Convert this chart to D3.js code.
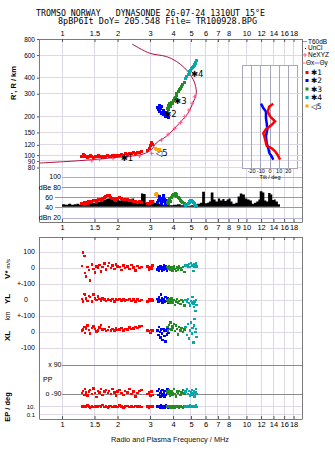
<!DOCTYPE html>
<html>
<head>
<meta charset="utf-8">
<script src="https://cdn.jsdelivr.net/npm/d3@7"></script>
<style>
  body { margin: 0; background: #fff; }
  svg { display: block; font-family: "Liberation Sans", Arial, sans-serif; }
</style>
</head>
<body>
<script>
// ---- data ----
const titleLines = ['TROMSO NORWAY   DYNASONDE 26-07-24 1310UT 15°E', '8pBP6It DoY= 205.548 File= TR100928.BPG'];
const freqTicks = [1, 1.5, 2, 3, 4, 5, 6, 7, 8, 10, 12, 14, 16, 18];
const midFreqTicks = [1, 1.5, 2, 3, 4, 5, 6, 7, 8, 9, 10, 12, 14, 16, 18];
const heightTicks = [80, 90, 100, 120, 150, 200, 300, 400, 600, 800];
const dbTicks = [20, 40, 60, 80, 100];
const dbTickLabels = ['dBn 20', '40', '60', 'dBe 80', '100'];
const tiltTicks = [-20, -10, 0, 10, 20];

// trace 1 (red)
const f1 = [1.28,1.30,1.32,1.33,1.35,1.37,1.40,1.42,1.45,1.48,1.51,1.54,1.57,1.60,1.63,1.66,1.70,1.73,1.77,1.80,1.84,1.88,1.92,1.96,2.00,2.05,2.10,2.15,2.20,2.26,2.32,2.38,2.44,2.50,2.56,2.63,2.70,2.90,2.97,3.02,3.06,3.10];
const h1 = [98,101,99,97,98,96,97,99,97,96,98,97,99,97,98,96,98,97,99,98,97,99,98,100,99,100,101,100,102,101,103,102,104,103,105,104,106,108,113,118,126,121];
const a1 = [48,49,47,50,51,49,52,50,53,54,55,53,56,57,55,58,60,62,64,63,60,58,57,55,58,60,59,57,56,57,55,54,53,52,51,52,50,49,48,52,53,51];
const v1 = [12,98,76,-32,-52,6,-12,-78,22,-6,-28,10,2,18,-22,6,28,-10,12,32,0,15,-6,22,10,5,-12,16,0,10,-6,20,4,-15,12,0,6,10,-10,5,-4,15];
const yl1 = [5,-8,38,30,10,-5,25,18,-10,35,8,0,22,5,-4,10,2,-6,4,0,-3,6,-8,2,0,5,-4,3,-2,0,6,-5,2,-10,4,-6,0,-8,3,-5,6,-2];
const xl1 = [8,15,30,-5,22,40,12,-10,25,35,18,2,10,28,45,15,20,5,12,30,10,18,8,22,12,16,25,10,20,15,28,18,22,30,25,35,38,10,5,-5,12,8];
const pp1 = [-85,-70,-95,-60,-80,-100,-75,-65,-90,-55,-85,-110,-70,-80,-60,-95,-75,-65,-85,-70,-90,-60,-80,-100,-75,-65,-85,-95,-70,-80,-60,-90,-75,-105,-85,-70,-65,-90,-80,-100,-75,-95];
const ep1 = [12,9,15,8,10,20,11,7,13,9,16,10,8,14,11,25,9,12,7,10,15,8,11,13,9,18,10,7,12,14,9,11,8,16,10,12,9,13,7,11,15,10];

// trace 2 (blue)
const f2 = [3.30,3.33,3.36,3.39,3.42,3.45,3.48,3.51,3.54,3.57,3.60,3.63,3.66,3.70,3.74,3.78];
const h2 = [235,226,243,218,232,210,238,215,205,224,208,200,214,198,206,196];
const a2 = [50,55,60,62,58,54,48,52,60,63,57,50,46,52,55,49];
const v2 = [-10,5,-15,0,10,-5,-20,5,-10,15,0,-5,10,-15,5,0];
const yl2 = [5,-10,15,0,-5,35,10,-15,0,5,-10,20,-5,0,10,-20];
const xl2 = [10,-20,30,0,-35,15,-10,-50,20,5,-25,-60,10,-15,25,-5];
const pp2 = [-70,-95,-60,-85,-105,-75,-90,-65,-100,-80,-110,-70,-95,-85,-60,-90];
const ep2 = [12,8,15,6,10,20,9,5,11,14,7,10,18,8,12,6];

// trace 3 (green)
const f3 = [3.72,3.76,3.80,3.84,3.88,3.92,3.96,4.00,4.05,4.10,4.15,4.20,4.26,4.32,4.38,4.45,4.52,4.60];
const h3 = [232,245,228,250,240,258,252,265,275,282,290,300,312,322,330,342,352,365];
const a3 = [50,55,48,58,53,60,63,66,64,67,62,65,60,58,55,52,50,48];
const v3 = [5,-5,10,0,-10,5,-15,0,8,-5,-20,3,-8,10,0,-12,5,-25];
const yl3 = [0,-10,5,-15,-5,10,-20,-5,0,-30,-10,5,-15,-5,-25,0,-10,-35];
const xl3 = [30,10,45,20,60,15,35,25,50,5,40,20,-15,30,10,25,0,15];
const pp3 = [-75,-90,-65,-100,-80,-70,-95,-85,-60,-90,-105,-75,-85,-70,-95,-80,-65,-88];
const ep3 = [10,14,8,12,6,9,15,7,11,5,13,8,10,6,12,9,7,11];

// trace 4 (teal)
const f4 = [4.66,4.75,4.82,4.88,4.94,5.00,5.05,5.10,5.15,5.20,5.24,5.28,5.32,5.36];
const h4 = [392,410,425,440,445,455,470,480,490,500,505,515,525,540];
const a4 = [44,46,48,50,52,54,55,53,50,48,46,45,44,43];
const v4 = [15,20,10,25,5,30,12,18,-20,22,8,15,28,10];
const yl4 = [0,-10,5,-20,-35,-5,-15,20,-25,-45,-10,-70,0,-30];
const xl4 = [30,-20,50,-40,10,60,-10,25,-65,40,80,0,20,-30];
const pp4 = [-75,-60,-90,-70,-100,-80,-65,-95,-85,-70,-105,-80,-60,-90];
const ep4 = [10,15,12,8,18,11,9,14,13,10,16,12,20,9];

// trace 5 (orange)
const f5 = [3.20,3.24,3.28,3.32,3.36];
const h5 = [112,110,111,109,110];
const a5 = [66,68,64,55,53];

// trace labels (frequency, height) where the black tag starts
const tagText = ['✱1', '✱2', '✱3', '✱4', '◁5'];
const tagFreq = [2.08, 3.58, 4.05, 5.0, 3.22];
const tagHeight = [95, 208, 262, 430, 104];

// real height profile (model line) and NeXYZ points
const profFreq = [0.75,1.225,1.82,2.75,3.05,3.24,3.68,4.33,4.82,5.12,5.33,5.34,5.24,5.03,4.62,4.17,3.68,2.99,2.40];
const profHeight = [86.6,90.3,94.8,101.8,110,124,140,177,212,254,295,322,363,409,476,535,584,620,730];
const neFreq = [1.45,1.60,1.89,2.22,2.63,3.06,3.46,3.76,4.08,4.39,4.62,4.88,5.08,5.24];
const neHeight = [90.4,92.6,94.3,96,98.3,103,131,145,161,179,199,224,253,284];

// T60dB amplitude
const t60Freq = [1.00,1.04,1.08,1.12,1.16,1.20,1.24,1.28,1.32,1.38,1.44,1.50,1.56,1.62,1.68,1.74,1.80,1.86,1.92,1.98,2.04,2.10,2.16,2.22,2.30,2.38,2.46,2.54,2.62,2.68,2.76,2.84,2.92,3.00,3.08,3.16,3.26,3.40,3.60,3.80,4.00,4.20,4.40,4.60,4.80,5.00,5.20,5.40,5.60,5.75,5.95,6.10,6.25,6.40,6.62,6.80,7.00,7.20,7.40,7.60,7.80,8.00,8.20,8.40,8.70,8.95,9.20,9.50,9.80,10.1,10.4,10.7,11.0,11.3,11.6,11.8,12.2,12.5,12.8,13.1,13.5,13.8,14.1,14.4,14.8,15.2];
const t60Amp = [47,46,48,46,47,48,46,47,49,48,50,49,52,54,56,58,57,55,60,56,54,58,55,57,56,58,55,53,50,68,67,49,50,48,55,50,48,46,47,45,46,47,45,46,44,45,46,48,50,71,49,50,52,70,56,52,58,54,57,53,56,58,52,48,50,62,68,66,58,56,54,48,50,52,56,72,70,54,52,69,66,55,56,52,47,44];

// tilt inset
const tiltXHeight = [251,239,218,200,183,172,159,148,140,124,118,113,107,101,92];
const tiltXDeg = [3.6,-0.8,-2.5,0,5.5,1.9,-4.4,-7.3,-6.2,-4.4,-3.6,1.9,5.5,8,11];
const tiltYHeight = [251,232,218,194,177,158,140,124,113,104,97.5,92];
const tiltYDeg = [-9.8,-7.3,-4.4,-4.4,-3.6,-2.9,-4.4,-3.6,-1.9,-0.8,1.9,3.6];

// ---- drawing ----
const W = 335, H = 451;
const left = 39, right = 302, top0 = 39, top1 = 222, low0 = 237, low1 = 419;
const GRID = '#ddd8e3', FRAME = '#7a7a7a';
const RED = '#ff0000', BLUE = '#0000ff', GREEN = '#228b22', TEAL = '#00aaaa', ORANGE = '#ffa500';

const svg = d3.select('body').append('svg').attr('width', W).attr('height', H);
svg.append('rect').attr('width', W).attr('height', H).attr('fill', '#fff');

const x = d3.scaleLog().domain([0.75, 20]).range([left, right]);
const yH = d3.scaleLog().domain([80, 800]).range([167.5, top0]);
const yDb = d3.scaleLinear().domain([20, 100]).range([218, 177]);
const yV = d3.scaleLinear().domain([-100, 100]).range([284, 252]);
const yYL = d3.scaleLinear().domain([-100, 100]).range([316, 284]);
const yXL = d3.scaleLinear().domain([-100, 100]).range([348, 316]);
const yPP = d3.scaleLinear().domain([-90, 90]).range([394, 365]);
const yEP = d3.scaleLog().domain([0.1, 10]).range([414.3, 406.7]);
const xT = d3.scaleLinear().domain([-30, 30]).range([242.5, 297.5]);

// title
titleLines.forEach((t, i) => {
  svg.append('text')
    .attr('x', i ? 58 : 36).attr('y', i ? 24 : 15.5)
    .attr('textLength', i ? 199 : 229).attr('lengthAdjust', 'spacingAndGlyphs')
    .style('white-space', 'pre')
    .style('font-family', '"DejaVu Sans Mono", monospace').style('font-size', '8px')
    .text(t);
});

// grid
const grid = svg.append('g').attr('stroke', GRID).attr('stroke-width', 1).attr('shape-rendering', 'crispEdges');
freqTicks.forEach(f => {
  grid.append('line').attr('x1', x(f)).attr('x2', x(f)).attr('y1', top0).attr('y2', top1);
  grid.append('line').attr('x1', x(f)).attr('x2', x(f)).attr('y1', low0).attr('y2', low1);
});
heightTicks.forEach(h => {
  grid.append('line').attr('x1', left).attr('x2', right).attr('y1', yH(h)).attr('y2', yH(h));
});
dbTicks.forEach((d, i) => {
  const short = !dbTickLabels[i].startsWith('dB') && d !== 100;
  grid.append('line').attr('x1', short ? 55 : x(1)).attr('x2', right)
    .attr('y1', yDb(d)).attr('y2', yDb(d))
    .attr('stroke', d === 20 ? '#b4b4dc' : (d === 100 ? '#b0b0b0' : '#999'));
});
const lowRows = [[yV, 100, '100'], [yV, 0, '0'], [yV, -100, '+-100'], [yYL, 0, '0'], [yYL, -100, '+-100'], [yXL, 0, '0'], [yXL, -100, '-100']];
lowRows.forEach(r => {
  grid.append('line').attr('x1', left).attr('x2', right).attr('y1', r[0](r[1])).attr('y2', r[0](r[1]));
});
[90, -90].forEach(p => {
  grid.append('line').attr('x1', x(1)).attr('x2', right).attr('y1', yPP(p)).attr('y2', yPP(p)).attr('stroke', '#8a8a8a');
});
[10, 0.1].forEach(e => {
  grid.append('line').attr('x1', left).attr('x2', right).attr('y1', yEP(e)).attr('y2', yEP(e));
});

// frames
const frame = svg.append('g').attr('stroke', FRAME).attr('shape-rendering', 'crispEdges');
[[top0, top1], [low0, low1]].forEach(([a, b]) => {
  frame.append('line').attr('x1', left).attr('x2', left).attr('y1', a).attr('y2', b);
  frame.append('line').attr('x1', right).attr('x2', right).attr('y1', a).attr('y2', b);
});

function styleAxis(g, size) {
  g.style('font-family', '"Liberation Sans", Arial, sans-serif').style('font-size', size || '7.5px');
  g.selectAll('.domain').attr('stroke', FRAME);
  g.selectAll('.tick line').attr('stroke', '#555');
  g.selectAll('.tick text').attr('fill', '#000');
}
const fmt = d3.format('~g');
svg.append('g').attr('transform', `translate(0,${top0})`)
  .call(d3.axisTop(x).tickValues(freqTicks).tickFormat(fmt).tickSizeInner(-3).tickSizeOuter(0).tickPadding(3)).call(styleAxis);
svg.append('g').attr('transform', `translate(0,${top1})`)
  .call(d3.axisBottom(x).tickValues(midFreqTicks).tickFormat(fmt).tickSizeInner(-3).tickSizeOuter(0).tickPadding(3)).call(styleAxis);
svg.append('g').attr('transform', `translate(0,${low0})`)
  .call(d3.axisTop(x).tickValues(freqTicks).tickFormat('').tickSizeInner(-3).tickSizeOuter(0)).call(styleAxis);
svg.append('g').attr('transform', `translate(0,${low1})`)
  .call(d3.axisBottom(x).tickValues(freqTicks).tickFormat(fmt).tickSizeInner(-3).tickSizeOuter(0).tickPadding(3)).call(styleAxis);
svg.append('g').attr('transform', `translate(${left},0)`)
  .call(d3.axisLeft(yH).tickValues(heightTicks).tickFormat(d3.format('d')).tickSize(2).tickPadding(2))
  .call(styleAxis, '6.5px')
  .call(g => g.select('.domain').remove());

// left labels, small text
const lab = svg.append('g').style('font-size', '7px').attr('fill', '#000');
dbTicks.forEach((d, i) => {
  const short = !dbTickLabels[i].startsWith('dB') && d !== 100;
  lab.append('text').attr('x', short ? 53 : 61).attr('y', yDb(d)).attr('dy', '0.35em')
    .attr('text-anchor', 'end').text(dbTickLabels[i]);
});
lowRows.forEach(r => {
  lab.append('text').attr('x', r[2] === '0' && r[0] === yYL ? 28 : 35).attr('y', r[0](r[1])).attr('dy', '0.35em')
    .attr('text-anchor', 'end').text(r[2]);
});
lab.append('text').attr('x', 61.5).attr('y', yPP(90)).attr('dy', '0.35em').attr('text-anchor', 'end').style('white-space', 'pre').text('x 90');
lab.append('text').attr('x', 61.5).attr('y', yPP(-90)).attr('dy', '0.35em').attr('text-anchor', 'end').style('white-space', 'pre').text('o -90');
lab.append('text').attr('x', 43).attr('y', 380).attr('dy', '0.35em').text('PP');
lab.append('text').attr('x', 35).attr('y', yEP(10)).attr('dy', '0.3em').attr('text-anchor', 'end').style('font-size', '6px').text('10.');
lab.append('text').attr('x', 35).attr('y', yEP(0.1)).attr('dy', '0.4em').attr('text-anchor', 'end').style('font-size', '6px').text('0.1');

// rotated axis titles
function vtext(cx, cy, parts) {
  const t = svg.append('text').attr('transform', `translate(${cx},${cy}) rotate(-90)`)
    .attr('text-anchor', 'middle').attr('fill', '#000');
  parts.forEach(p => t.append('tspan').style('font-size', p[1]).style('font-weight', p[2] || 'bold').text(p[0]));
}
vtext(16, 83, [["R', R / km", '7.5px']]);
vtext(10, 269, [['V*', '8px'], [' m/s', '6px', 'normal']]);
vtext(10, 299, [['YL', '8px']]);
vtext(10, 316, [['km', '6.5px', 'normal']]);
vtext(10, 336, [['XL', '8px']]);
vtext(10, 407, [['EP / deg', '7.5px']]);

svg.append('text').attr('x', 170).attr('y', 442).attr('text-anchor', 'middle')
  .attr('textLength', 118).attr('lengthAdjust', 'spacingAndGlyphs')
  .style('font-size', '8px').attr('fill', '#111').text('Radio and Plasma Frequency / MHz');

// tilt inset
const inset = svg.append('g');
inset.append('rect').attr('x', xT(-30)).attr('y', 65).attr('width', xT(30) - xT(-30)).attr('height', 103)
  .attr('fill', '#fff').attr('stroke', '#a8a8bc').attr('shape-rendering', 'crispEdges');
heightTicks.filter(h => yH(h) > 66 && yH(h) < 167).forEach(h => {
  inset.append('line').attr('x1', xT(-30)).attr('x2', xT(30)).attr('y1', yH(h)).attr('y2', yH(h))
    .attr('stroke', GRID).attr('shape-rendering', 'crispEdges');
});
tiltTicks.forEach(t => {
  inset.append('line').attr('x1', xT(t)).attr('x2', xT(t)).attr('y1', 65).attr('y2', 168)
    .attr('stroke', '#a4a4bc').attr('shape-rendering', 'crispEdges');
  inset.append('text').attr('x', xT(t)).attr('y', 173).attr('text-anchor', 'middle')
    .style('font-size', '5.5px').text(t);
});
inset.append('text').attr('x', xT(0)).attr('y', 179).attr('text-anchor', 'middle').style('font-size', '5.5px').text('Tilt / deg');
const tiltLine = d3.line().x(d => xT(d[0])).y(d => yH(d[1]));
inset.append('path').datum(d3.zip(tiltYDeg, tiltYHeight)).attr('d', tiltLine)
  .attr('fill', 'none').attr('stroke', BLUE).attr('stroke-width', 2.5);
inset.append('path').datum(d3.zip(tiltXDeg, tiltXHeight)).attr('d', tiltLine)
  .attr('fill', 'none').attr('stroke', RED).attr('stroke-width', 2.5);

// profile line and NeXYZ markers
svg.append('path').datum(d3.zip(profFreq, profHeight))
  .attr('d', d3.line().x(d => x(d[0])).y(d => yH(d[1])).curve(d3.curveCatmullRom))
  .attr('fill', 'none').attr('stroke', '#b0103e').attr('stroke-width', 1);
svg.append('g').selectAll('path').data(d3.zip(neFreq, neHeight)).enter().append('path')
  .attr('transform', d => `translate(${x(d[0])},${yH(d[1])})`)
  .attr('d', 'M-2,0H2M0,-2V2').attr('stroke', '#ff5a8c').attr('stroke-width', 1);

// T60dB amplitude
svg.append('path').datum(d3.zip(t60Freq, t60Amp))
  .attr('d', d3.area().x(d => x(d[0])).y0(yDb(42)).y1(d => yDb(d[1])).curve(d3.curveStepAfter))
  .attr('fill', '#000');

// echo traces
function dots(fs, vs, yScale, color, s) {
  svg.append('g').attr('fill', color).attr('shape-rendering', 'crispEdges')
    .selectAll('rect').data(d3.zip(fs, vs)).enter().append('rect')
    .attr('x', d => x(d[0]) - s / 2).attr('y', d => yScale(d[1]) - s / 2)
    .attr('width', s).attr('height', s);
}
const traces = [
  { c: RED, f: f1, h: h1, a: a1, v: v1, yl: yl1, xl: xl1, pp: pp1, ep: ep1 },
  { c: ORANGE, f: f5, h: h5, a: a5 },
  { c: BLUE, f: f2, h: h2, a: a2, v: v2, yl: yl2, xl: xl2, pp: pp2, ep: ep2 },
  { c: GREEN, f: f3, h: h3, a: a3, v: v3, yl: yl3, xl: xl3, pp: pp3, ep: ep3 },
  { c: TEAL, f: f4, h: h4, a: a4, v: v4, yl: yl4, xl: xl4, pp: pp4, ep: ep4 }
];
traces.forEach(t => {
  dots(t.f, t.h, yH, t.c, 3);
  dots(t.f, t.a, yDb, t.c, 3);
  if (t.v) {
    dots(t.f, t.v, yV, t.c, 2.5);
    dots(t.f, t.yl, yYL, t.c, 2.5);
    dots(t.f, t.xl, yXL, t.c, 2.5);
    dots(t.f, t.pp, yPP, t.c, 2.5);
    dots(t.f, t.ep, yEP, t.c, 2.5);
  }
});

// trace tags
tagText.forEach((t, i) => {
  svg.append('text').attr('x', x(tagFreq[i])).attr('y', yH(tagHeight[i])).attr('dy', '0.35em')
    .style('font-family', '"DejaVu Sans", sans-serif').style('font-size', '8.5px').attr('fill', '#000').text(t);
});

// legend
const lg = svg.append('g').style('font-size', '6.5px').attr('fill', '#000');
const legY = [41.5, 48, 55, 63, 72.5, 80.5, 89, 97.5, 106];
lg.append('line').attr('x1', 303).attr('x2', 307).attr('y1', legY[0]).attr('y2', legY[0]).attr('stroke', '#999');
lg.append('text').attr('x', 308).attr('y', legY[0]).attr('dy', '0.35em').text('T60dB');
lg.append('rect').attr('x', 305).attr('y', legY[1]).attr('width', 1).attr('height', 1).attr('fill', '#000');
lg.append('text').attr('x', 308).attr('y', legY[1]).attr('dy', '0.35em').text('UnCl');
lg.append('path').attr('transform', `translate(305,${legY[2]})`).attr('d', 'M-2,0H2M0,-2V2').attr('stroke', '#ff5a8c');
lg.append('text').attr('x', 308).attr('y', legY[2]).attr('dy', '0.35em').text('NeXYZ');
lg.append('line').attr('x1', 302).attr('x2', 305.5).attr('y1', legY[3]).attr('y2', legY[3]).attr('stroke', '#ff6070');
lg.append('text').attr('x', 306).attr('y', legY[3]).attr('dy', '0.35em').text('Θx');
lg.append('line').attr('x1', 314.5).attr('x2', 319).attr('y1', legY[3]).attr('y2', legY[3]).attr('stroke', '#7070ff');
lg.append('text').attr('x', 319.5).attr('y', legY[3]).attr('dy', '0.35em').text('Θy');
[RED, BLUE, GREEN, TEAL, ORANGE].forEach((c, i) => {
  lg.append('rect').attr('x', 305.5).attr('y', legY[4 + i] - 1.5).attr('width', 3).attr('height', 3).attr('fill', c);
  lg.append('text').attr('x', 311).attr('y', legY[4 + i]).attr('dy', '0.35em')
    .style('font-family', '"DejaVu Sans", sans-serif').style('font-size', '7.5px').text(tagText[i]);
});
</script>
</body>
</html>
